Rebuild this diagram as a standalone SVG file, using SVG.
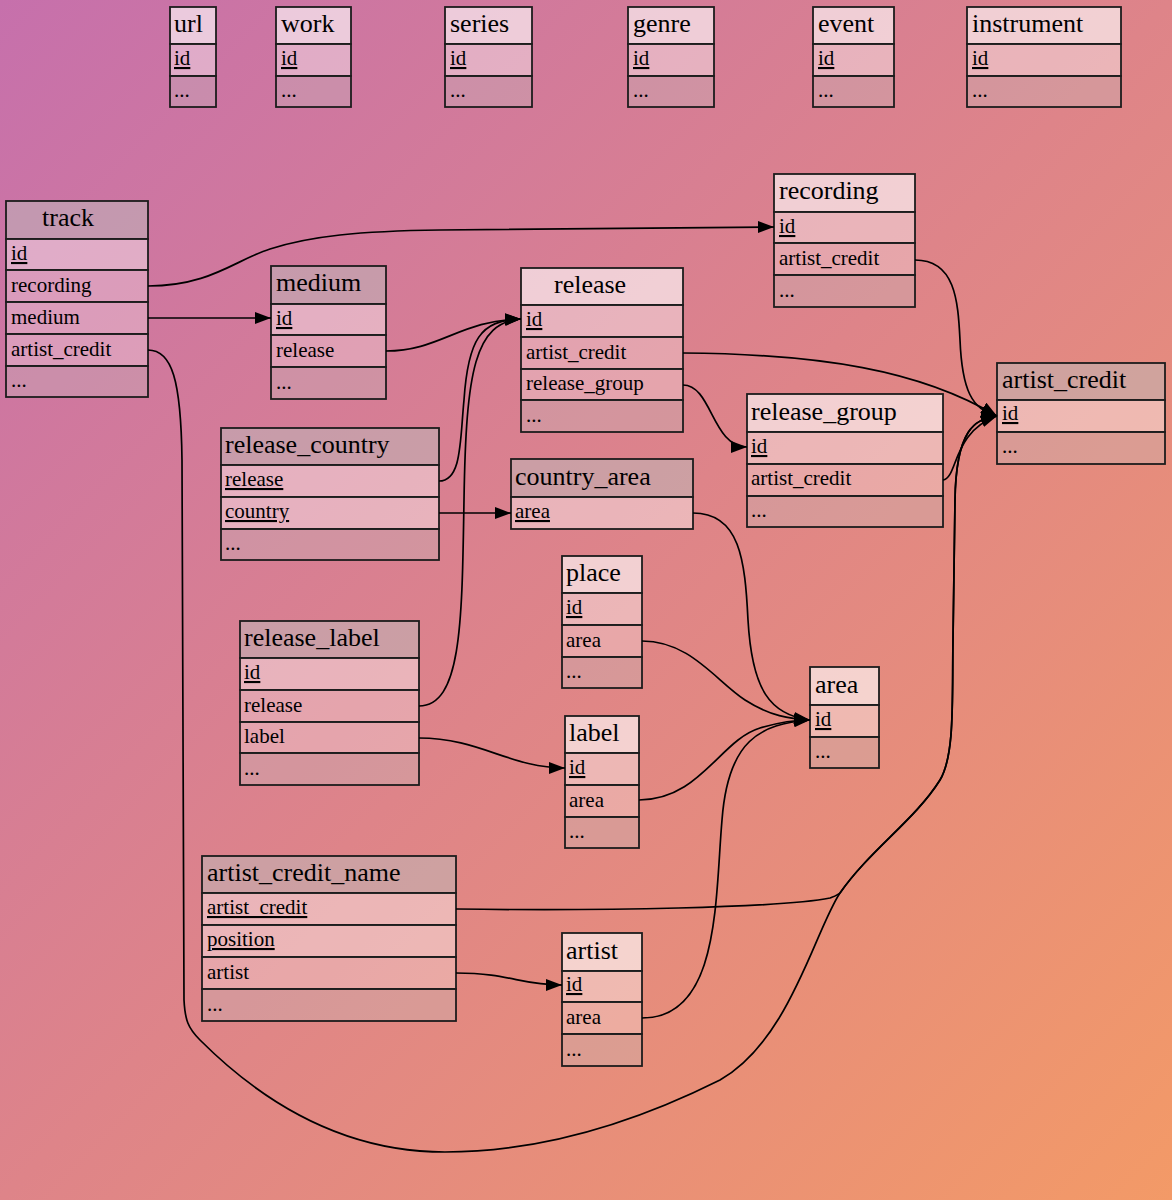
<svg xmlns="http://www.w3.org/2000/svg" width="1172" height="1200" viewBox="0 0 1172 1200">
  <defs>
    <linearGradient id="bg" x1="0" y1="0" x2="1" y2="1">
      <stop offset="0" stop-color="#c670ac"/>
      <stop offset="0.5" stop-color="#de8489"/>
      <stop offset="1" stop-color="#f39a67"/>
    </linearGradient>
    <marker id="arrow" viewBox="0 0 16 12" markerWidth="16" markerHeight="12" refX="16" refY="6" orient="auto" markerUnits="userSpaceOnUse">
      <path d="M0,0 L16,6 L0,12 z" fill="#000"/>
    </marker>
  </defs>
  <style>
    rect { stroke: #1c1c1c; stroke-width: 1.8; }
    .hl { fill: rgba(255,255,255,0.62); }
    .hd { fill: rgba(188,188,188,0.5); }
    .pk { fill: rgba(255,255,255,0.4); }
    .col { fill: rgba(255,255,255,0.28); }
    .etc { fill: rgba(195,195,195,0.3); }
    text { font-family: "Liberation Serif", "Times New Roman", serif; fill: #000; }
    .t { font-size: 26px; }
    .f { font-size: 21px; }
    .u { text-decoration: underline; text-decoration-color: #6e5462; }
    .edges path { fill: none; stroke: #000; stroke-width: 1.7; marker-end: url(#arrow); }
  </style>

  <rect x="0" y="0" width="1172" height="1200" fill="url(#bg)" style="stroke:none"/>

  <!-- standalone tables -->
  <g id="url">
    <rect class="hl" x="170" y="7" width="46" height="37"/>
    <rect class="pk" x="170" y="44" width="46" height="32"/>
    <rect class="etc" x="170" y="76" width="46" height="31"/>
    <text class="t" x="174" y="32">url</text>
    <text class="f u" x="174" y="65">id</text>
    <text class="f" x="174" y="97">...</text>
  </g>
  <g id="work">
    <rect class="hl" x="276" y="7" width="75" height="37"/>
    <rect class="pk" x="276" y="44" width="75" height="32"/>
    <rect class="etc" x="276" y="76" width="75" height="31"/>
    <text class="t" x="281" y="32">work</text>
    <text class="f u" x="281" y="65">id</text>
    <text class="f" x="281" y="97">...</text>
  </g>
  <g id="series">
    <rect class="hl" x="445" y="7" width="87" height="37"/>
    <rect class="pk" x="445" y="44" width="87" height="32"/>
    <rect class="etc" x="445" y="76" width="87" height="31"/>
    <text class="t" x="450" y="32">series</text>
    <text class="f u" x="450" y="65">id</text>
    <text class="f" x="450" y="97">...</text>
  </g>
  <g id="genre">
    <rect class="hl" x="628" y="7" width="86" height="37"/>
    <rect class="pk" x="628" y="44" width="86" height="32"/>
    <rect class="etc" x="628" y="76" width="86" height="31"/>
    <text class="t" x="633" y="32">genre</text>
    <text class="f u" x="633" y="65">id</text>
    <text class="f" x="633" y="97">...</text>
  </g>
  <g id="event">
    <rect class="hl" x="813" y="7" width="81" height="37"/>
    <rect class="pk" x="813" y="44" width="81" height="32"/>
    <rect class="etc" x="813" y="76" width="81" height="31"/>
    <text class="t" x="818" y="32">event</text>
    <text class="f u" x="818" y="65">id</text>
    <text class="f" x="818" y="97">...</text>
  </g>
  <g id="instrument">
    <rect class="hl" x="967" y="7" width="154" height="37"/>
    <rect class="pk" x="967" y="44" width="154" height="32"/>
    <rect class="etc" x="967" y="76" width="154" height="31"/>
    <text class="t" x="972" y="32">instrument</text>
    <text class="f u" x="972" y="65">id</text>
    <text class="f" x="972" y="97">...</text>
  </g>

  <g id="track">
    <rect class="hd" x="6" y="201" width="142" height="38"/>
    <rect class="pk" x="6" y="239" width="142" height="31"/>
    <rect class="col" x="6" y="270" width="142" height="32"/>
    <rect class="col" x="6" y="302" width="142" height="32"/>
    <rect class="col" x="6" y="334" width="142" height="32"/>
    <rect class="etc" x="6" y="366" width="142" height="31"/>
    <text class="t" x="42" y="226">track</text>
    <text class="f u" x="11" y="260">id</text>
    <text class="f" x="11" y="292">recording</text>
    <text class="f" x="11" y="324">medium</text>
    <text class="f" x="11" y="356">artist_credit</text>
    <text class="f" x="11" y="387">...</text>
  </g>

  <g id="recording">
    <rect class="hl" x="774" y="174" width="141" height="38"/>
    <rect class="pk" x="774" y="212" width="141" height="31"/>
    <rect class="col" x="774" y="243" width="141" height="32"/>
    <rect class="etc" x="774" y="275" width="141" height="32"/>
    <text class="t" x="779" y="199">recording</text>
    <text class="f u" x="779" y="233">id</text>
    <text class="f" x="779" y="265">artist_credit</text>
    <text class="f" x="779" y="297">...</text>
  </g>

  <g id="medium">
    <rect class="hd" x="271" y="266" width="115" height="38"/>
    <rect class="pk" x="271" y="304" width="115" height="31"/>
    <rect class="col" x="271" y="335" width="115" height="32"/>
    <rect class="etc" x="271" y="367" width="115" height="32"/>
    <text class="t" x="276" y="291">medium</text>
    <text class="f u" x="276" y="325">id</text>
    <text class="f" x="276" y="357">release</text>
    <text class="f" x="276" y="389">...</text>
  </g>

  <g id="release">
    <rect class="hl" x="521" y="268" width="162" height="37"/>
    <rect class="pk" x="521" y="305" width="162" height="32"/>
    <rect class="col" x="521" y="337" width="162" height="32"/>
    <rect class="col" x="521" y="369" width="162" height="31"/>
    <rect class="etc" x="521" y="400" width="162" height="32"/>
    <text class="t" x="554" y="293">release</text>
    <text class="f u" x="526" y="326">id</text>
    <text class="f" x="526" y="359">artist_credit</text>
    <text class="f" x="526" y="390">release_group</text>
    <text class="f" x="526" y="422">...</text>
  </g>

  <g id="release_group">
    <rect class="hl" x="747" y="394" width="196" height="38"/>
    <rect class="pk" x="747" y="432" width="196" height="32"/>
    <rect class="col" x="747" y="464" width="196" height="32"/>
    <rect class="etc" x="747" y="496" width="196" height="31"/>
    <text class="t" x="751" y="420">release_group</text>
    <text class="f u" x="751" y="453">id</text>
    <text class="f" x="751" y="485">artist_credit</text>
    <text class="f" x="751" y="517">...</text>
  </g>

  <g id="artist_credit">
    <rect class="hd" x="997" y="363" width="168" height="37"/>
    <rect class="pk" x="997" y="400" width="168" height="32"/>
    <rect class="etc" x="997" y="432" width="168" height="32"/>
    <text class="t" x="1002" y="388">artist_credit</text>
    <text class="f u" x="1002" y="420">id</text>
    <text class="f" x="1002" y="453">...</text>
  </g>

  <g id="release_country">
    <rect class="hd" x="221" y="428" width="218" height="37"/>
    <rect class="pk" x="221" y="465" width="218" height="32"/>
    <rect class="pk" x="221" y="497" width="218" height="32"/>
    <rect class="etc" x="221" y="529" width="218" height="31"/>
    <text class="t" x="225" y="453">release_country</text>
    <text class="f u" x="225" y="486">release</text>
    <text class="f u" x="225" y="518">country</text>
    <text class="f" x="225" y="550">...</text>
  </g>

  <g id="country_area">
    <rect class="hd" x="511" y="459" width="182" height="38"/>
    <rect class="pk" x="511" y="497" width="182" height="32"/>
    <text class="t" x="515" y="485">country_area</text>
    <text class="f u" x="515" y="518">area</text>
  </g>

  <g id="place">
    <rect class="hl" x="562" y="556" width="80" height="37"/>
    <rect class="pk" x="562" y="593" width="80" height="32"/>
    <rect class="col" x="562" y="625" width="80" height="32"/>
    <rect class="etc" x="562" y="657" width="80" height="31"/>
    <text class="t" x="566" y="581">place</text>
    <text class="f u" x="566" y="614">id</text>
    <text class="f" x="566" y="647">area</text>
    <text class="f" x="566" y="678">...</text>
  </g>

  <g id="release_label">
    <rect class="hd" x="240" y="621" width="179" height="37"/>
    <rect class="pk" x="240" y="658" width="179" height="32"/>
    <rect class="col" x="240" y="690" width="179" height="32"/>
    <rect class="col" x="240" y="722" width="179" height="31"/>
    <rect class="etc" x="240" y="753" width="179" height="32"/>
    <text class="t" x="244" y="646">release_label</text>
    <text class="f u" x="244" y="679">id</text>
    <text class="f" x="244" y="712">release</text>
    <text class="f" x="244" y="743">label</text>
    <text class="f" x="244" y="775">...</text>
  </g>

  <g id="label">
    <rect class="hl" x="565" y="716" width="74" height="37"/>
    <rect class="pk" x="565" y="753" width="74" height="32"/>
    <rect class="col" x="565" y="785" width="74" height="32"/>
    <rect class="etc" x="565" y="817" width="74" height="31"/>
    <text class="t" x="569" y="741">label</text>
    <text class="f u" x="569" y="774">id</text>
    <text class="f" x="569" y="807">area</text>
    <text class="f" x="569" y="838">...</text>
  </g>

  <g id="area">
    <rect class="hl" x="810" y="667" width="69" height="38"/>
    <rect class="pk" x="810" y="705" width="69" height="32"/>
    <rect class="etc" x="810" y="737" width="69" height="31"/>
    <text class="t" x="815" y="693">area</text>
    <text class="f u" x="815" y="726">id</text>
    <text class="f" x="815" y="758">...</text>
  </g>

  <g id="artist_credit_name">
    <rect class="hd" x="202" y="856" width="254" height="37"/>
    <rect class="pk" x="202" y="893" width="254" height="32"/>
    <rect class="pk" x="202" y="925" width="254" height="32"/>
    <rect class="col" x="202" y="957" width="254" height="32"/>
    <rect class="etc" x="202" y="989" width="254" height="32"/>
    <text class="t" x="207" y="881">artist_credit_name</text>
    <text class="f u" x="207" y="914">artist_credit</text>
    <text class="f u" x="207" y="946">position</text>
    <text class="f" x="207" y="979">artist</text>
    <text class="f" x="207" y="1011">...</text>
  </g>

  <g id="artist">
    <rect class="hl" x="562" y="933" width="80" height="38"/>
    <rect class="pk" x="562" y="971" width="80" height="31"/>
    <rect class="col" x="562" y="1002" width="80" height="32"/>
    <rect class="etc" x="562" y="1034" width="80" height="32"/>
    <text class="t" x="566" y="959">artist</text>
    <text class="f u" x="566" y="991">id</text>
    <text class="f" x="566" y="1024">area</text>
    <text class="f" x="566" y="1056">...</text>
  </g>

  <!-- foreign key references -->
  <g class="edges" id="edges">
    <path d="M148,286 C210,286 235,260 270,249 C310,236 360,231 440,230 C560,228 680,227 774,227"/>
    <path d="M148,318 L271,318"/>
    <path d="M148,350 C172,350 181,380 182,460 C183,600 183,900 184,1000 C185,1020 188,1028 200,1040 C260,1100 340,1152 445,1152 C560,1152 660,1110 720,1080 C790,1040 815,930 840,893 C870,850 915,820 940,780 C955,755 952,700 953,640 L955,500 C956,430 975,418 997,416"/>
    <path d="M386,351 C440,351 460,320 521,319"/>
    <path d="M439,481 C462,481 460,440 464,400 C468,340 480,320 521,319"/>
    <path d="M419,706 C462,706 462,620 464,500 C466,370 475,322 521,319"/>
    <path d="M683,353 C820,354 920,370 997,416"/>
    <path d="M683,385 C712,385 712,447 747,447"/>
    <path d="M915,260 C955,260 958,300 960,340 C962,390 972,410 997,416"/>
    <path d="M943,480 C958,478 952,432 997,416"/>
    <path d="M439,513 L511,513"/>
    <path d="M693,513 C740,513 745,560 748,620 C752,690 770,715 810,720"/>
    <path d="M642,641 C690,641 715,680 745,700 C770,716 790,719 810,720"/>
    <path d="M419,738 C480,738 510,768 565,768"/>
    <path d="M639,800 C700,800 720,740 760,728 C780,722 795,720 810,720"/>
    <path d="M456,973 C510,973 520,985 562,985"/>
    <path d="M642,1018 C720,1018 715,900 722,820 C728,740 760,724 810,720"/>
    <path d="M456,909 C600,911 780,908 830,898 C835,896 838,895 840,893 C870,850 915,820 940,780 C955,755 952,700 953,640 L955,500 C956,430 975,418 997,416"/>
  </g>
</svg>
